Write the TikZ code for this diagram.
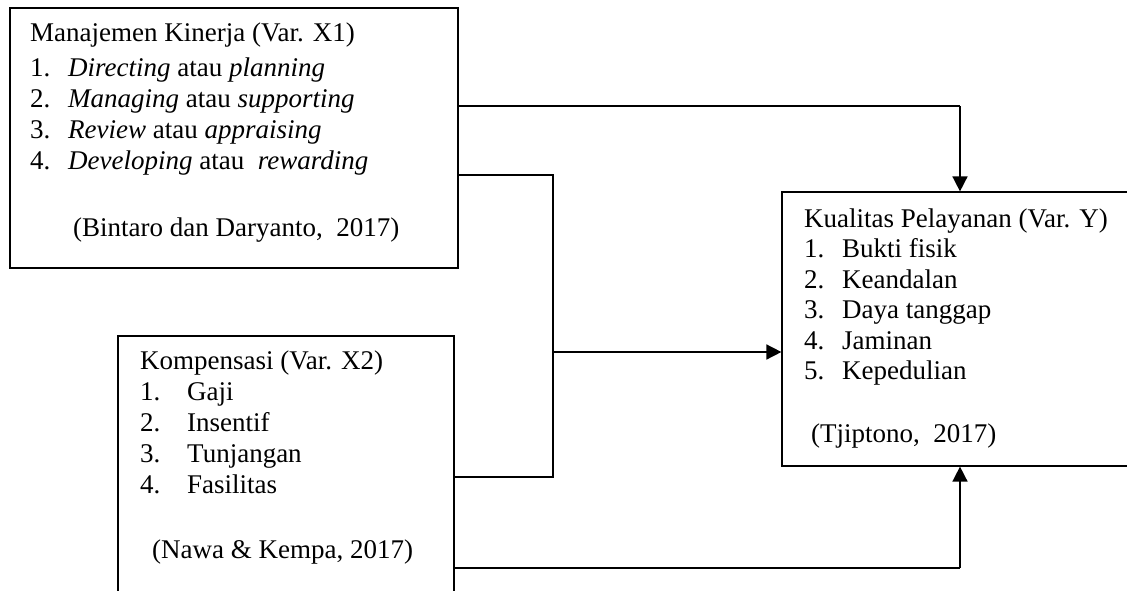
\documentclass[tikz,border=0pt]{standalone}
\usepackage{fontspec}
\setmainfont{Liberation Serif}
\usetikzlibrary{arrows.meta,positioning}

\tikzset{
  varbox/.style={draw,line width=1.2pt,rectangle,inner sep=0pt},
  vartext/.style={anchor=north west,align=left,inner sep=0pt},
  link/.style={line width=1.2pt},
  linkarrow/.style={line width=1.6pt,-{Triangle[length=15pt,width=15pt]}}
}
\newcommand{\nr}[2][38pt]{\makebox[#1][l]{#2}}

\begin{document}
\begin{tikzpicture}[x=1pt,y=-1pt]
  \useasboundingbox (0,0) rectangle (1127,590);
  \def\fs{\fontsize{27}{31}\selectfont}
  % boxes
  \node[varbox,minimum width=448pt,minimum height=260pt] (x1) at (234,138) {};
  \node[varbox,minimum width=336pt,minimum height=280pt] (x2) at (286,476) {};
  \node[varbox,minimum width=356pt,minimum height=274pt] (y) at (960,329) {};
  % texts
  \node[vartext,font=\fs] (x1text) at (30,22.5) {Manajemen Kinerja (Var. X1)\\[4pt]
    \nr{1.}\textit{Directing} atau \textit{planning}\\
    \nr{2.}\textit{Managing} atau \textit{supporting}\\
    \nr{3.}\textit{Review} atau \textit{appraising}\\
    \nr{4.}\textit{Developing} atau~ \textit{rewarding}\\[36pt]
    \hspace*{43pt}(Bintaro dan Daryanto,~ 2017)};
  \node[vartext,font=\fs] (x2text) at (140,350.5) {Kompensasi (Var. X2)\\
    \nr[47pt]{1.}Gaji\\
    \nr[47pt]{2.}Insentif\\
    \nr[47pt]{3.}Tunjangan\\
    \nr[47pt]{4.}Fasilitas\\[34pt]
    \hspace*{12pt}(Nawa \& Kempa, 2017)};
  \node[vartext,font=\fontsize{27}{30.5}\selectfont] (ytext) at (804,208.5) {Kualitas Pelayanan (Var. Y)\\
    \nr{1.}Bukti fisik\\
    \nr{2.}Keandalan\\
    \nr{3.}Daya tanggap\\
    \nr{4.}Jaminan\\
    \nr{5.}Kepedulian\\[32pt]
    \hspace*{7pt}(Tjiptono,~ 2017)};
  % junctions
  \coordinate (c1) at (960,106);
  \coordinate (jt) at (553,175);
  \coordinate (jm) at (553,352);
  \coordinate (jb) at (553,477);
  \coordinate (c3) at (960,568);
  % connectors
  \draw[link] (x1.east |- c1) -- (c1);
  \draw[linkarrow] (c1) -- (y.north);
  \draw[link] (x1.east |- jt) -- (jt) -- (jb) -- (x2.east |- jb);
  \draw[linkarrow] (jm) -- (y.west |- jm);
  \draw[link] (x2.east |- c3) -- (c3);
  \draw[linkarrow] (c3) -- (y.south);
\end{tikzpicture}
\end{document}
